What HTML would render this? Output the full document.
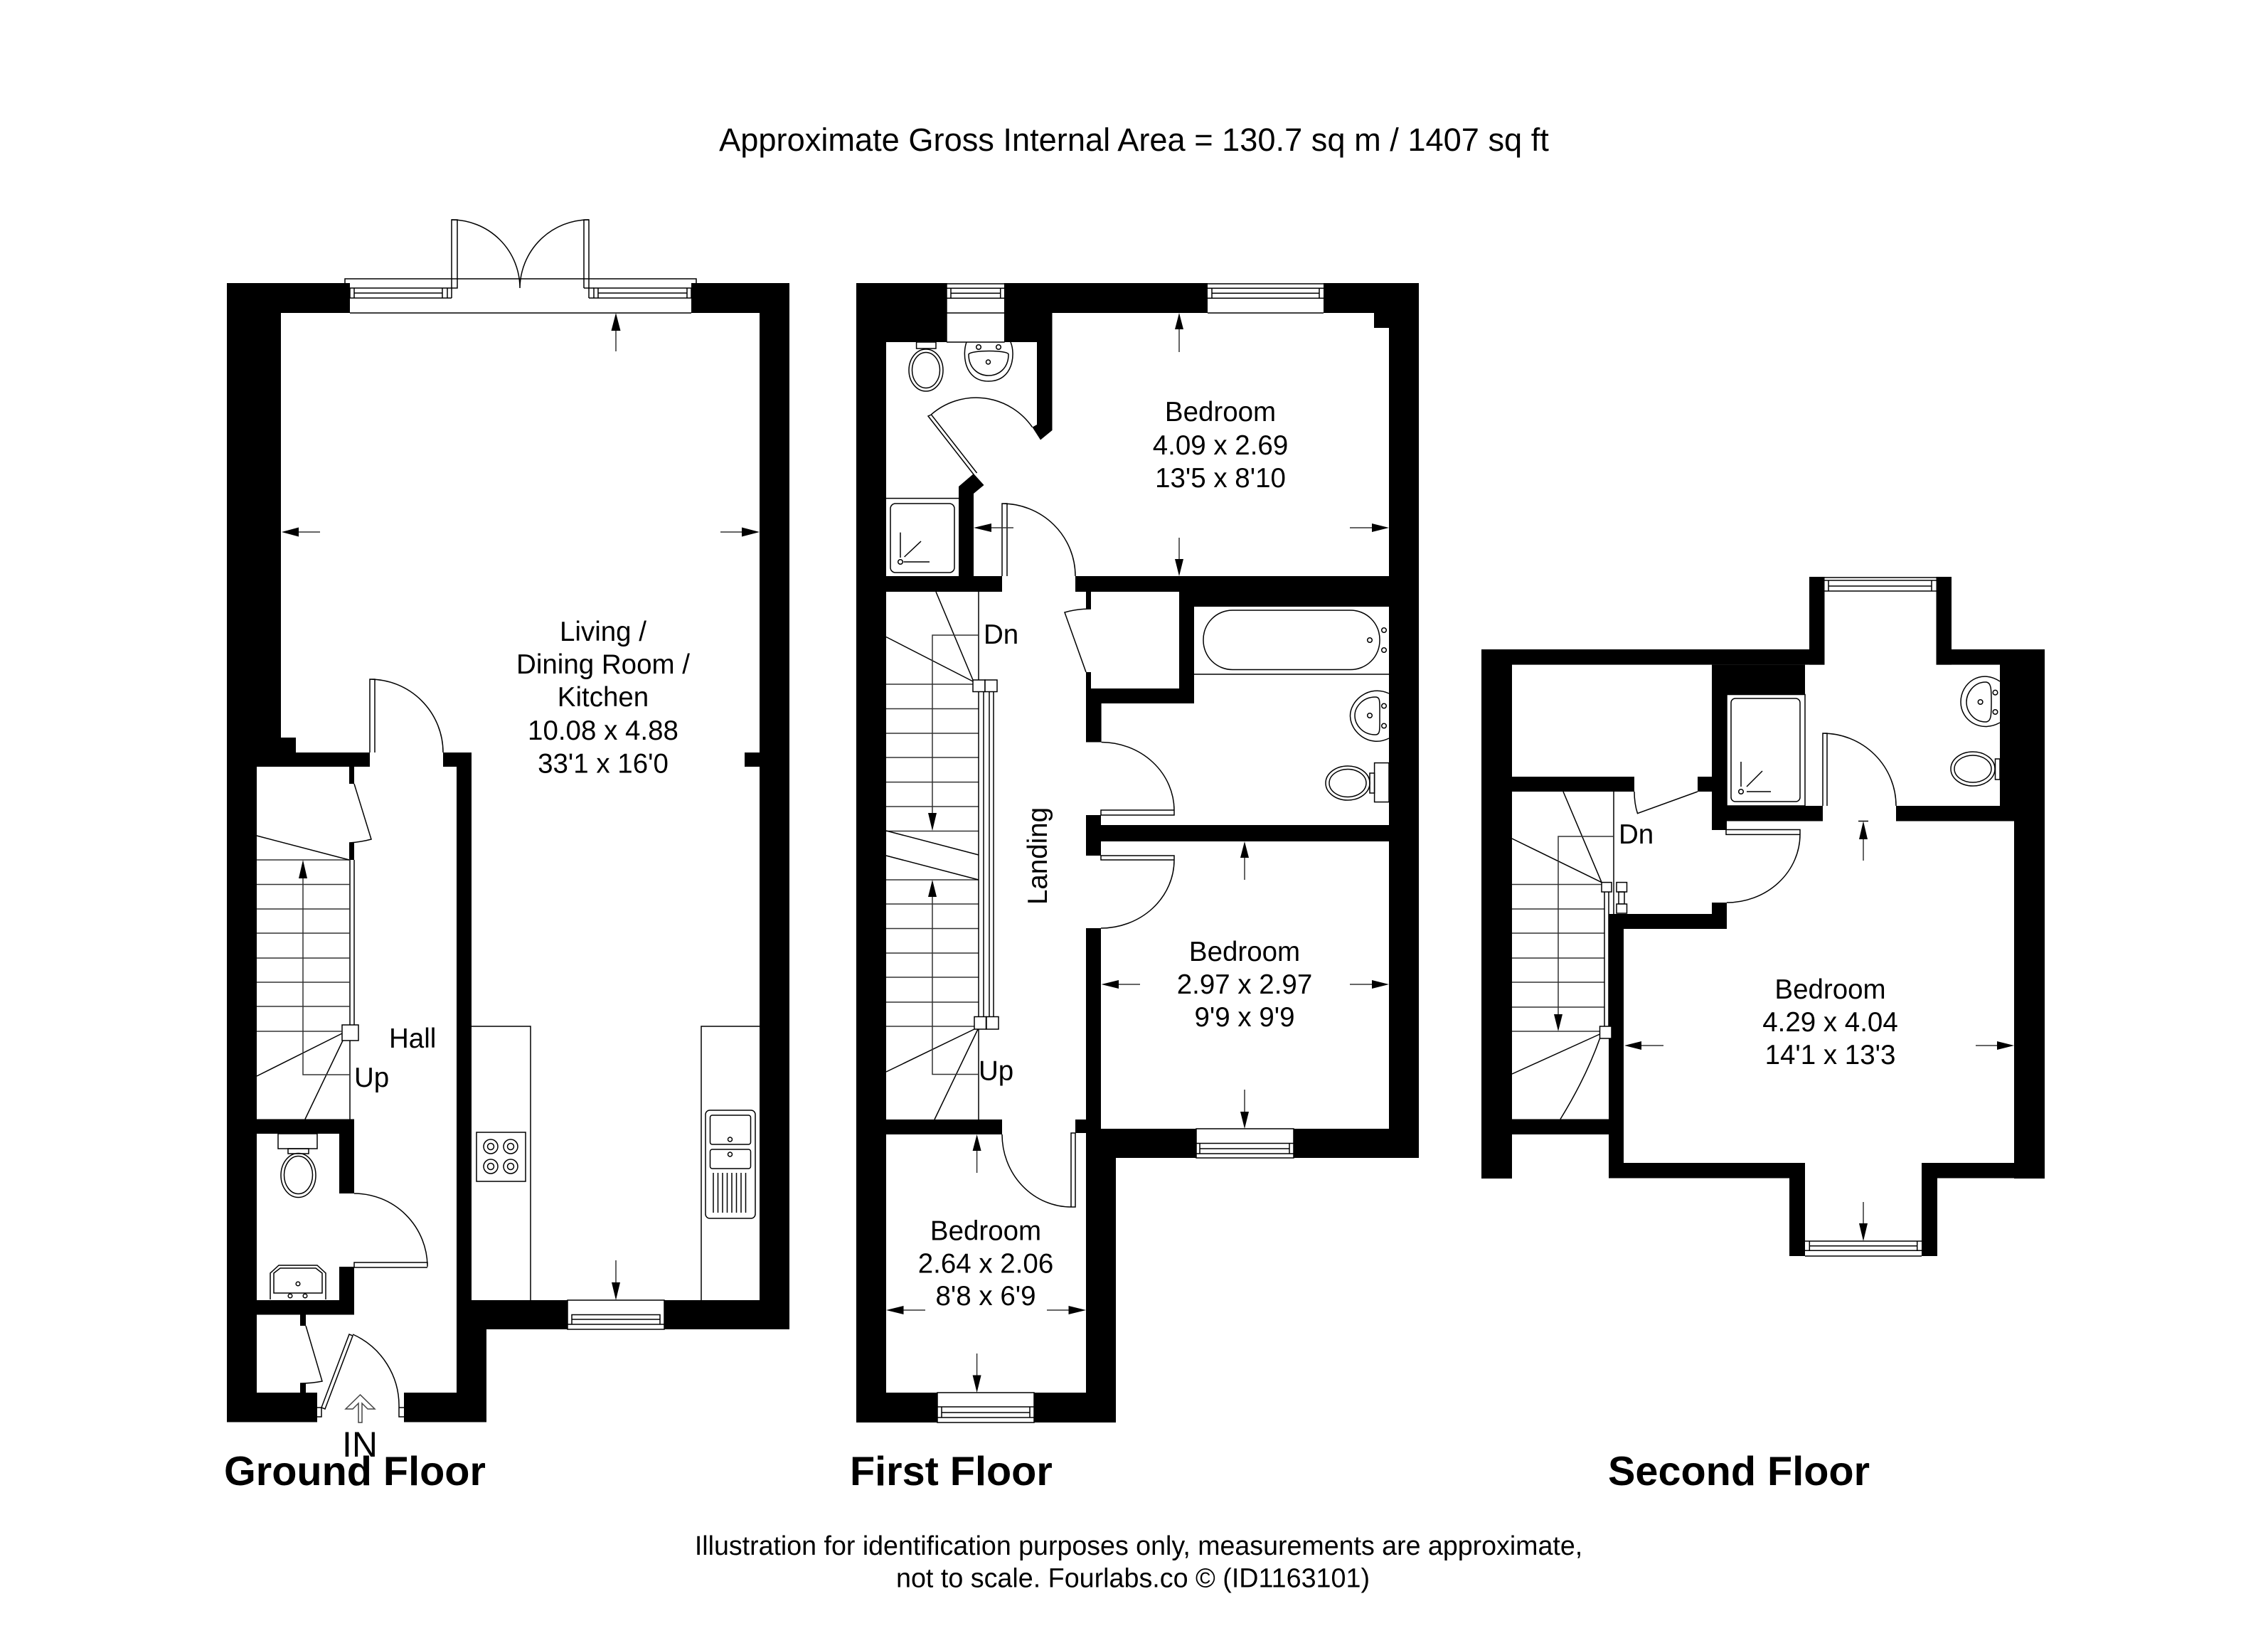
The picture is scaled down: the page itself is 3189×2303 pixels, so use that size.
<!DOCTYPE html>
<html><head><meta charset="utf-8"><title>Floor plan</title>
<style>
html,body{margin:0;padding:0;background:#fff}
svg{display:block}
text{font-family:"Liberation Sans",Arial,sans-serif;fill:#000}
.r{font-size:38.5px;text-anchor:middle}
.l{font-size:38.5px}
.b{font-size:57.6px;font-weight:bold}
.s{fill:none;stroke:#000;stroke-width:1.5}
.g{fill:none;stroke:#333;stroke-width:1.5}
.w{fill:#000;stroke:none}
.o{fill:#fff;stroke:none}
.wb{fill:#fff;stroke:#000;stroke-width:1.5}
</style></head>
<body>
<svg xmlns="http://www.w3.org/2000/svg" width="3189" height="2303" viewBox="0 0 3189 2303">
<rect width="3189" height="2303" fill="#fff"/>

<!-- ===== GROUND FLOOR WALLS ===== -->
<g class="w">
<rect x="319" y="398" width="173" height="42"/>
<rect x="319" y="398" width="76" height="639"/>
<rect x="319" y="1037" width="97" height="21"/>
<rect x="319" y="1058" width="201" height="20"/>
<rect x="319" y="1078" width="42" height="921.5"/>
<rect x="319" y="1958" width="127" height="41.5"/>
<rect x="972" y="398" width="138" height="42"/>
<rect x="1068" y="398" width="42" height="1471"/>
<rect x="1047" y="1058" width="21" height="20"/>
<rect x="623" y="1058" width="40" height="20"/>
<rect x="642" y="1058" width="21" height="770"/>
<rect x="642" y="1828" width="468" height="41"/>
<rect x="642" y="1869" width="42" height="130.5"/>
<rect x="568" y="1958" width="116" height="41.5"/>
<rect x="319" y="1573.5" width="179" height="20.5"/>
<rect x="477" y="1594" width="21" height="84"/>
<rect x="477" y="1781" width="21" height="47"/>
<rect x="319" y="1828" width="179" height="20.5"/>
<rect x="491" y="1078" width="7" height="24"/>
<rect x="491" y="1185" width="7" height="24"/>
<rect x="422" y="1848" width="8" height="16"/>
<rect x="422" y="1945" width="8" height="13"/>
</g>
<!-- top french doors / windows -->
<path class="s" d="M485 398V392H979V398M492 440H972"/>
<path class="s" d="M492 405H622V419H492ZM498 405V419M498 412H622M629 405V419M622 405H635M622 419H635"/>
<path class="s" d="M835 405H972V419H835ZM841 405V419M841 412H966M966 405V419M828 419H835"/>
<path class="s" d="M635 419V309H643V405H635M821 405V309H828V419M821 405H835"/>
<path class="s" d="M635 309A96 96 0 0 1 731 405M828 309A97 97 0 0 0 731 405"/>
<!-- hall door -->
<path class="s" d="M520 1058V955H527V1058M520 955A103 103 0 0 1 623 1058"/>
<!-- cupboard door top -->
<path class="s" d="M498 1102L522 1180Q507 1184 491 1185"/>
<!-- ground stairs -->
<path class="s" d="M492 1209V1441M498 1209V1441"/>
<rect x="481" y="1441" width="23" height="22" class="wb"/>
<path class="g" d="M361 1209H492M361 1243.5H492M361 1278H492M361 1312H492M361 1347H492M361 1381H492M361 1415H492M361 1450H481"/>
<path class="s" d="M361 1175L491 1209M361 1513L481 1453M429 1573.5L482 1463M492 1463V1573.5"/>
<path class="g" d="M426 1230V1511H492"/>
<polygon class="w" points="426,1209 420,1235 432,1235"/>
<!-- WC ground -->
<rect x="391" y="1594" width="55" height="21" class="s"/>
<rect x="405" y="1615" width="29" height="7" class="s"/>
<ellipse cx="419.5" cy="1652.5" rx="24.5" ry="31" class="s"/>
<ellipse cx="419.5" cy="1652" rx="20" ry="26.5" class="s"/>
<path class="s" d="M380 1827V1790L392 1779H446L458 1790V1827"/>
<path class="s" d="M385 1818V1790L394 1783H444L453 1790V1818Z"/>
<circle cx="419" cy="1805" r="2.8" class="s"/><circle cx="408" cy="1822" r="2.8" class="s"/><circle cx="429" cy="1822" r="2.8" class="s"/>
<!-- WC door -->
<path class="s" d="M498 1678A103 103 0 0 1 601 1781V1775H498V1782H601"/>
<!-- lower cupboard door -->
<path class="s" d="M430 1864L453 1942Q438 1945 422 1945"/>
<!-- entrance door -->
<path class="s" d="M446 1979H452V1992H446M452 1979L491 1876L496 1878L457 1981Z"/>
<path class="s" d="M496 1876A110 110 0 0 1 561 1979V1992H568M561 1979H568"/>
<polygon points="506.5,1961 486,1981 496,1981 504,1973 504,2000 509,2000 509,1973 517,1981 527,1981" fill="#fff" stroke="#444" stroke-width="1.5"/>
<!-- kitchen units -->
<path class="s" d="M663 1443H746V1828M1068 1443H986V1828"/>
<rect x="670" y="1592" width="69" height="69" class="s"/>
<g class="s"><circle cx="690" cy="1612" r="10"/><circle cx="690" cy="1612" r="4.5"/><circle cx="718" cy="1612" r="10"/><circle cx="718" cy="1612" r="4.5"/><circle cx="690" cy="1640" r="10"/><circle cx="690" cy="1640" r="4.5"/><circle cx="718" cy="1640" r="10"/><circle cx="718" cy="1640" r="4.5"/></g>
<rect x="992" y="1561" width="70" height="152" rx="6" class="s"/>
<rect x="998.5" y="1568" width="57" height="41" rx="3" class="s"/>
<rect x="998.5" y="1616" width="57" height="27" rx="3" class="s"/>
<circle cx="1026.5" cy="1602" r="3" class="s"/><circle cx="1026.5" cy="1623" r="3" class="s"/>
<path class="s" d="M1003 1649V1705M1009.5 1649V1705M1016 1649V1705M1022.5 1649V1705M1029 1649V1705M1035.5 1649V1705M1042 1649V1705M1048.5 1649V1705"/>
<!-- kitchen window -->
<rect x="798" y="1828" width="136" height="41" class="wb"/>
<path class="s" d="M804 1848.5H928V1862H804ZM804 1855H928M798 1862H934"/>
<!-- arrows ground -->
<path class="g" d="M866 494V460"/><polygon class="w" points="866,440 859.5,465 872.5,465"/>
<path class="g" d="M420 748H450"/><polygon class="w" points="396,748 420,741.5 420,754.5"/>
<path class="g" d="M1013 748H1043"/><polygon class="w" points="1068,748 1043,741.5 1043,754.5"/>
<path class="g" d="M866 1772V1803"/><polygon class="w" points="866,1828 860,1803 872,1803"/>

<!-- ===== FIRST FLOOR WALLS ===== -->
<g class="w">
<rect x="1204" y="398" width="42" height="1602"/>
<rect x="1204" y="398" width="127" height="83"/>
<rect x="1412.7" y="398" width="285.3" height="42"/>
<rect x="1861" y="398" width="134" height="42"/>
<rect x="1412.7" y="440" width="45.3" height="41"/>
<polygon points="1458,481 1479.5,440 1479.5,605 1463,618.5 1451.5,600.6 1458,597"/>
<rect x="1458" y="440" width="21.5" height="60"/>
<rect x="1932" y="440" width="63" height="21"/>
<rect x="1953" y="440" width="42" height="1188"/>
<polygon points="1348,684 1369,666 1383.5,682 1369,694 1369,810 1348,810"/>
<rect x="1204" y="810" width="205" height="22"/>
<rect x="1512" y="810" width="483" height="22"/>
<rect x="1658" y="832" width="337" height="21"/>
<rect x="1658" y="853" width="21" height="136"/>
<rect x="1527" y="968" width="152" height="21"/>
<rect x="1527" y="989" width="21.6" height="54.5"/>
<rect x="1527" y="832" width="7" height="24"/>
<rect x="1527" y="945" width="7" height="23"/>
<rect x="1527" y="1146" width="21" height="14"/>
<rect x="1527" y="1160" width="468" height="23"/>
<rect x="1527" y="1183" width="21" height="20"/>
<rect x="1527" y="1305" width="21" height="282"/>
<rect x="1512" y="1574" width="36" height="19"/>
<rect x="1527" y="1587" width="468" height="41"/>
<rect x="1527" y="1628" width="42" height="372"/>
<rect x="1204" y="1574" width="205" height="21"/>
<rect x="1204" y="1958" width="365" height="42"/>
</g>
<!-- first floor windows -->
<rect x="1331" y="398" width="81.7" height="83" class="o"/>
<path class="s" d="M1331 399H1412.7M1331 405.3H1412.7M1337 412.3H1406.7M1331 419.3H1412.7M1337 405.3V419.3M1406.7 405.3V419.3M1331 440H1412.7M1331 481H1412.7M1331 398V481M1412.7 398V481"/>
<rect x="1698" y="398" width="163" height="42" class="o"/>
<path class="s" d="M1698 399H1861M1698 405.3H1861M1704 412.3H1855M1698 419.3H1861M1704 405.3V419.3M1855 405.3V419.3M1698 440H1861"/>
<rect x="1682" y="1587" width="137" height="41" class="wb"/>
<path class="s" d="M1682 1607.5H1819M1687 1615H1813M1682 1622H1819M1687 1607.5V1622M1813 1607.5V1622"/>
<rect x="1318" y="1958" width="136" height="42" class="wb"/>
<path class="s" d="M1318 1978H1454M1324 1986H1448M1318 1993H1454M1324 1978V1993M1448 1978V1993"/>
<!-- en-suite door -->
<path class="s" d="M1373.6 665L1309.5 583L1305 585L1369 667"/>
<path class="s" d="M1309.5 582.7A96 96 0 0 1 1451.5 600.6"/>
<!-- bedroom door -->
<path class="s" d="M1409 810V708H1416V810M1409 708A103 102 0 0 1 1512 810"/>
<!-- cupboard door -->
<path class="s" d="M1534 856Q1514 856 1497 861L1527 945"/>
<!-- bathroom door -->
<path class="s" d="M1548.6 1043.5A103 96 0 0 1 1651 1139V1146H1548V1139H1651"/>
<!-- bedroom 2 door -->
<path class="s" d="M1548 1203H1651V1209H1548ZM1651 1209A103 96 0 0 1 1548 1305"/>
<!-- bedroom 3 door -->
<path class="s" d="M1409 1595A97 102 0 0 0 1506 1697H1512V1593H1506V1697"/>
<!-- en-suite fittings -->
<rect x="1288.6" y="481" width="27.4" height="9" class="s"/>
<ellipse cx="1302" cy="520.5" rx="24" ry="29.5" class="s"/>
<ellipse cx="1302" cy="520.5" rx="19.5" ry="25" class="s"/>
<path class="s" d="M1359 481C1353 497 1355 536 1390 536C1425 536 1428 497 1421 481"/>
<path class="s" d="M1362 498C1362 520 1378 528 1390 528C1402 528 1418 520 1418 498C1416 492 1366 492 1362 498Z"/>
<circle cx="1376" cy="488" r="3.3" class="s"/><circle cx="1404" cy="488" r="3.3" class="s"/><circle cx="1389.5" cy="509" r="3" class="s"/>
<path class="s" d="M1246 700.6H1348"/>
<rect x="1252" y="708" width="90" height="97" rx="7" class="s"/>
<path class="s" d="M1266 748.6V784M1271.6 783L1295 761M1270.5 790H1307"/><circle cx="1266" cy="790" r="3.3" class="s"/>
<!-- bath -->
<rect x="1692" y="858" width="248" height="83.5" rx="41" class="s"/>
<path class="s" d="M1679 948H1953"/>
<circle cx="1946" cy="886" r="3.3" class="s"/><circle cx="1946" cy="914" r="3.3" class="s"/><circle cx="1926" cy="900" r="3.3" class="s"/>
<path class="s" d="M1953 975C1925 962 1898 985 1898.5 1007C1899 1029 1925 1052 1953 1038"/>
<path class="s" d="M1934 980C1915 980 1905 995 1905 1006C1905 1018 1915 1033 1934 1033C1941 1033 1940 1026 1940 1006C1940 986 1941 980 1934 980Z"/>
<circle cx="1946" cy="992.5" r="3.3" class="s"/><circle cx="1946" cy="1020.5" r="3.3" class="s"/><circle cx="1926" cy="1006" r="3.3" class="s"/>
<rect x="1932.6" y="1072.6" width="20.4" height="55" class="s"/>
<rect x="1926" y="1087" width="6.6" height="28" class="s"/>
<ellipse cx="1895" cy="1101" rx="31" ry="24" class="s"/>
<ellipse cx="1895" cy="1101" rx="26" ry="19.5" class="s"/>
<!-- first floor stairs -->
<path class="g" d="M1246 962H1368M1246 996.5H1376M1246 1031H1376M1246 1065H1376M1246 1099.6H1376M1246 1134H1376M1246 1168.5H1376M1246 1237H1376M1246 1271H1376M1246 1305.5H1376M1246 1340H1376M1246 1374H1376M1246 1409H1376M1246 1443H1370"/>
<path class="s" d="M1316 832L1368 956M1246 895.5L1368 958M1376 832V956M1246 1168L1376 1202M1246 1203L1376 1237M1246 1507L1370 1447M1314 1574L1375 1447M1376 1447V1574"/>
<path class="s" d="M1376 972V1430M1383 972V1430M1391 972V1430M1397 972V1430"/>
<rect x="1368" y="956" width="17" height="16.5" class="wb"/><rect x="1385" y="956" width="17" height="16.5" class="wb"/>
<rect x="1370" y="1429.5" width="16.5" height="17.5" class="wb"/><rect x="1387" y="1429.5" width="17" height="17.5" class="wb"/>
<path class="g" d="M1376 893H1311V1145"/><polygon class="w" points="1311,1168 1305,1143 1317,1143"/>
<path class="g" d="M1376 1510.5H1311V1258"/><polygon class="w" points="1311,1237 1305,1261 1317,1261"/>
<!-- arrows first -->
<path class="g" d="M1658 495V460"/><polygon class="w" points="1658,440 1652,463 1664,463"/>
<path class="g" d="M1658 756V790"/><polygon class="w" points="1658,810 1652,786 1664,786"/>
<path class="g" d="M1390 742H1425"/><polygon class="w" points="1369,742 1394,736 1394,748"/>
<path class="g" d="M1898 742H1930"/><polygon class="w" points="1953,742 1929,736 1929,748"/>
<path class="g" d="M1750 1237V1202"/><polygon class="w" points="1750,1183 1744,1206 1756,1206"/>
<path class="g" d="M1750 1532V1565"/><polygon class="w" points="1750,1587 1744,1563 1756,1563"/>
<path class="g" d="M1570 1384H1603"/><polygon class="w" points="1548.6,1384 1573,1378 1573,1390"/>
<path class="g" d="M1898 1384H1930"/><polygon class="w" points="1953,1384 1929,1378 1929,1390"/>
<path class="g" d="M1373.6 1649V1615"/><polygon class="w" points="1373.6,1595 1367.6,1618 1379.6,1618"/>
<path class="g" d="M1373.6 1903V1936"/><polygon class="w" points="1373.6,1958 1367.6,1933.5 1379.6,1933.5"/>
<path class="g" d="M1268 1842H1301"/><polygon class="w" points="1246,1842 1270.5,1836 1270.5,1848"/>
<path class="g" d="M1472 1842H1505"/><polygon class="w" points="1527,1842 1502.5,1836 1502.5,1848"/>

<!-- ===== SECOND FLOOR WALLS ===== -->
<g class="w">
<rect x="2083" y="913" width="482.5" height="21.6"/>
<rect x="2544" y="811" width="21.5" height="123.6"/>
<rect x="2722.5" y="811" width="21.5" height="123.6"/>
<rect x="2722.5" y="913" width="152.5" height="21.6"/>
<rect x="2083" y="913" width="43" height="744"/>
<rect x="2083" y="1092" width="215" height="21"/>
<rect x="2083" y="1573.5" width="200" height="21.5"/>
<rect x="2262" y="1285" width="21" height="371"/>
<rect x="2262" y="1285" width="166" height="21"/>
<rect x="2407" y="1269" width="21" height="16"/>
<rect x="2407" y="934.6" width="131" height="42"/>
<rect x="2407" y="976" width="21" height="191"/>
<rect x="2387" y="1092" width="20" height="21"/>
<rect x="2407" y="1133" width="156" height="21.5"/>
<rect x="2812" y="934" width="63" height="199"/>
<rect x="2666" y="1133" width="209" height="21.5"/>
<rect x="2832" y="1154" width="43" height="503"/>
<rect x="2702" y="1635" width="173" height="21.5"/>
<rect x="2262" y="1635" width="276" height="21.5"/>
<rect x="2516" y="1635" width="22" height="131"/>
<rect x="2702" y="1635" width="22" height="131"/>
</g>
<!-- second windows -->
<path class="s" d="M2565.5 812H2722.5M2565.5 816H2722.5M2571 824H2716M2565.5 831H2722.5M2571 816V831M2716 816V831"/>
<path class="s" d="M2538 1745H2702M2538 1758.3H2702M2544.3 1751.7H2695.7M2538 1766H2702M2544.3 1745V1758.3M2695.7 1745V1758.3"/>
<!-- second shower -->
<rect x="2428" y="976.5" width="110" height="156.5" class="s"/>
<rect x="2434" y="982" width="97" height="145" rx="6" class="s"/>
<path class="s" d="M2448 1071V1106M2456 1106L2478 1084M2456 1113H2490"/><circle cx="2448" cy="1113" r="3.3" class="s"/>
<!-- second doors -->
<path class="s" d="M2563 1133V1031H2569V1133M2563 1031A103 102 0 0 1 2666 1133"/>
<path class="s" d="M2427 1166.5H2531V1173.4H2427ZM2531 1173.4A103 96 0 0 1 2428 1269"/>
<path class="s" d="M2298 1113Q2298 1130 2302.5 1143.6L2387 1113"/>
<!-- second basin wc -->
<path class="s" d="M2812 958C2785 940 2757 960 2757 987C2757 1013 2785 1031 2812 1016"/>
<path class="s" d="M2792 959C2775 959 2765 975 2765 987C2765 1000 2775 1015 2792 1015C2800 1015 2800 1005 2800 987C2800 969 2800 959 2792 959Z"/>
<circle cx="2805.5" cy="973.7" r="3.3" class="s"/><circle cx="2805.5" cy="1001" r="3.3" class="s"/><circle cx="2784.6" cy="987" r="3.3" class="s"/>
<rect x="2805.5" y="1067" width="6.5" height="29" class="s"/>
<ellipse cx="2774" cy="1081" rx="31" ry="24" class="s"/>
<ellipse cx="2774" cy="1081" rx="26" ry="19" class="s"/>
<!-- second stairs -->
<path class="g" d="M2126 1243.5H2252M2126 1278H2256M2126 1312H2256M2126 1347H2256M2126 1381H2256M2126 1416H2256M2126 1450H2250"/>
<path class="s" d="M2198 1113L2252 1240.6M2126 1179L2252 1240.6M2269 1113V1285M2126 1510L2249.5 1454M2194 1573.5Q2230 1515 2249.5 1460M2256 1254V1443M2262 1254V1443"/>
<rect x="2252" y="1240.6" width="14" height="13.4" class="wb"/>
<rect x="2249.5" y="1443" width="16.5" height="17" class="wb"/>
<rect x="2273" y="1240.6" width="14.5" height="13.4" class="wb"/>
<rect x="2276" y="1254" width="8" height="17" class="s"/>
<rect x="2273" y="1271" width="14.5" height="13" class="wb"/>
<path class="g" d="M2269 1176H2191V1428"/><polygon class="w" points="2191,1450 2185,1426 2197,1426"/>
<!-- arrows second -->
<path class="s" d="M2613 1154.5H2627"/>
<path class="g" d="M2620 1210V1175"/><polygon class="w" points="2620,1154.5 2614,1180 2626,1180"/>
<path class="g" d="M2306 1470H2339"/><polygon class="w" points="2284,1470 2308,1464 2308,1476"/>
<path class="g" d="M2778 1470H2810"/><polygon class="w" points="2832,1470 2808,1464 2808,1476"/>
<path class="g" d="M2620 1690V1722"/><polygon class="w" points="2620,1745 2614,1720 2626,1720"/>

<!-- ===== TEXT ===== -->
<text x="1594.5" y="212" font-size="45.2" text-anchor="middle">Approximate Gross Internal Area = 130.7 sq m / 1407 sq ft</text>
<text x="1601" y="2186" font-size="37.6" text-anchor="middle">Illustration for identification purposes only, measurements are approximate,</text>
<text x="1593" y="2231.7" font-size="37.7" text-anchor="middle">not to scale. Fourlabs.co © (ID1163101)</text>
<text class="b" x="315" y="2088">Ground Floor</text>
<text class="b" x="1195" y="2088">First Floor</text>
<text class="b" x="2261" y="2088">Second Floor</text>
<text x="481" y="2048" font-size="50">IN</text>

<text class="r" x="848" y="901">Living /</text>
<text class="r" x="848" y="947">Dining Room /</text>
<text class="r" x="848" y="993">Kitchen</text>
<text class="r" x="848" y="1040">10.08 x 4.88</text>
<text class="r" x="848" y="1086.5">33'1 x 16'0</text>
<text class="l" x="547" y="1473">Hall</text>
<text class="l" x="498" y="1528">Up</text>

<text class="r" x="1716" y="592">Bedroom</text>
<text class="r" x="1716" y="639">4.09 x 2.69</text>
<text class="r" x="1716" y="685">13'5 x 8'10</text>
<text class="l" x="1383" y="905">Dn</text>
<text class="l" transform="translate(1472 1272) rotate(-90)">Landing</text>
<text class="l" x="1376" y="1518.5">Up</text>
<text class="r" x="1750" y="1351">Bedroom</text>
<text class="r" x="1750" y="1397">2.97 x 2.97</text>
<text class="r" x="1750" y="1443">9'9 x 9'9</text>
<text class="r" x="1386" y="1743.5">Bedroom</text>
<text class="r" x="1386" y="1789.5">2.64 x 2.06</text>
<text class="r" x="1386" y="1835">8'8 x 6'9</text>
<text class="l" x="2276" y="1186">Dn</text>
<text class="r" x="2573.5" y="1404">Bedroom</text>
<text class="r" x="2573.5" y="1450">4.29 x 4.04</text>
<text class="r" x="2573.5" y="1496">14'1 x 13'3</text>
</svg>
</body></html>
